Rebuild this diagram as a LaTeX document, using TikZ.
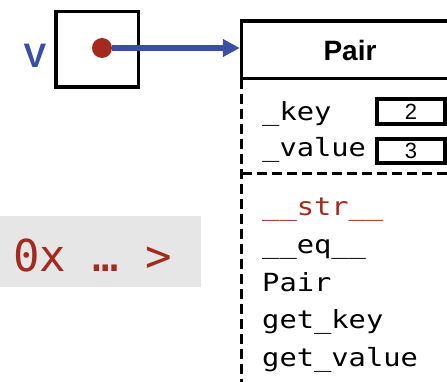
\documentclass[tikz,border=0pt]{standalone}
\usepackage{fontspec}
\setmainfont{Liberation Sans}
\newfontfamily\codefont[FakeStretch=1.15]{DejaVu Sans Mono}
\newfontfamily\addrfont{DejaVu Sans Mono}
\usetikzlibrary{arrows.meta}
\definecolor{refblue}{RGB}{58,78,163}
\definecolor{strred}{RGB}{165,42,30}
\definecolor{addrgray}{RGB}{230,230,230}

\tikzset{
  frame/.style={draw, line width=3.5pt, inner sep=0pt},
  dashframe/.style={line width=3pt, dash pattern=on 10pt off 5pt},
  valbox/.style={draw, line width=4pt, inner sep=0pt, minimum width=68pt,
    font=\fontsize{22}{22}\selectfont},
  code/.style={font=\codefont\fontsize{25}{25}\selectfont, anchor=base west, inner sep=0pt},
}

\begin{document}
\begin{tikzpicture}[x=1pt, y=-1pt]
\useasboundingbox (0,0) rectangle (447,382);
\clip (0,0) rectangle (447,382);

% address of the instance
\node (addr) [fill=addrgray, minimum width=201pt, minimum height=71pt, inner sep=0pt,
  anchor=north west] at (0,216) {};
\node (addrtxt) [anchor=base west, inner sep=0pt, text=strred,
  font=\addrfont\fontsize{44}{44}\selectfont] at (13,271) {0x … >};

% variable v
\node (vname) [text=refblue, font=\bfseries\fontsize{34}{34}\selectfont, inner sep=0pt]
  at (35,56) {V};
\node (vbox) [frame, minimum width=82.5pt, minimum height=75.5pt] at (97,49.5) {};
\node (dot) [circle, fill=strred, minimum size=20pt, inner sep=0pt] at (102,48) {};

% object header
\node (head) [frame, outer sep=0pt, minimum width=217pt, minimum height=57.5pt,
  font=\bfseries\fontsize{28}{28}\selectfont] at (350,50) {Pair};

% reference arrow
\draw[refblue, line width=5.5pt, shorten >=1.75pt, -{Triangle[length=17pt,width=17pt]}]
  (dot) -- (head.west |- dot);

% object body: attributes and methods
\draw[dashframe] (head.south west) -- (head.south west |- 0,395);
\draw[dashframe] (head.south west |- 0,173.5) -- (460,173.5);

\node (key) [code] at (262,121) {\_key};
\node (val) [code] at (262,157) {\_value};
\node (keyv) [valbox, minimum height=25pt] at (411,111.5) {2};
\node (valv) [valbox, minimum height=24pt] at (411,151) {3};

\node (m1) [code, text=strred] at (262,216) {\_\_str\_\_};
\node (m2) [code] at (262,253.6) {\_\_eq\_\_};
\node (m3) [code] at (262,291.2) {Pair};
\node (m4) [code] at (262,328.8) {get\_key};
\node (m5) [code] at (262,366.4) {get\_value};
\end{tikzpicture}
\end{document}
